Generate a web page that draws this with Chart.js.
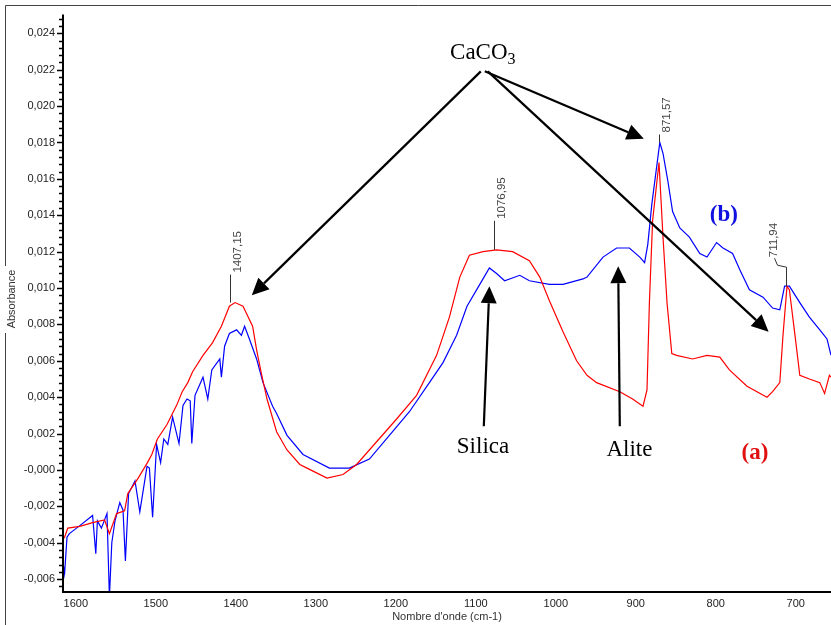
<!DOCTYPE html>
<html>
<head>
<meta charset="utf-8">
<script src="https://cdn.jsdelivr.net/npm/chart.js@4"></script>
<style>
  html, body { margin: 0; padding: 0; background: #fff; }
  #wrap { position: relative; width: 831px; height: 625px; }
</style>
</head>
<body>
<div id="wrap"><canvas id="ftir"></canvas></div>
<script>
// Wavenumbers (cm-1) and absorbance
const waveA = [1616, 1614, 1610, 1595, 1579, 1564, 1558, 1549, 1539, 1535, 1522, 1511, 1505, 1498, 1486, 1474, 1467, 1460, 1454, 1441, 1429, 1418, 1408, 1401, 1391, 1379, 1374, 1368, 1361, 1349, 1336, 1320, 1311, 1286, 1266, 1249, 1224, 1199, 1174, 1149, 1133, 1120, 1108, 1091, 1074, 1054, 1033, 1020, 1008, 991, 974, 961, 949, 920, 904, 891, 886, 883, 879, 871, 866, 861, 855, 849, 829, 811, 795, 783, 761, 736, 729, 720, 716, 711, 708, 701, 695, 683, 670, 664, 658, 656];
const absA = [-0.0038, -0.0037, -0.0032, -0.0031, -0.0029, -0.00275, -0.0035, -0.0024, -0.00225, -0.0013, -0.00045, 0.00036, 0.00085, 0.0017, 0.0025, 0.00355, 0.0043, 0.0048, 0.0054, 0.0063, 0.0070, 0.0079, 0.0090, 0.0092, 0.0090, 0.0079, 0.0066, 0.0053, 0.0039, 0.0021, 0.0011, 0.0003, 0.0001, -0.00045, -0.00025, 0.0003, 0.00155, 0.0028, 0.0041, 0.0063, 0.0084, 0.0106, 0.0118, 0.0120, 0.0121, 0.0120, 0.0115, 0.0106, 0.0093, 0.0076, 0.0060, 0.0052, 0.0048, 0.0043, 0.0039, 0.0035, 0.0044, 0.0092, 0.0137, 0.0169, 0.0128, 0.0092, 0.0064, 0.0063, 0.0061, 0.0063, 0.0062, 0.0055, 0.0046, 0.0040, 0.0043, 0.0048, 0.0074, 0.0101, 0.0099, 0.0074, 0.0052, 0.0050, 0.0048, 0.0042, 0.0052, 0.0051];

const waveB = [1616, 1614, 1611, 1608, 1595, 1579, 1575, 1573, 1568, 1561, 1558, 1555, 1551, 1545, 1541, 1538, 1534, 1526, 1520, 1511, 1508, 1504, 1499, 1494, 1490, 1485, 1479, 1471, 1466, 1461, 1457, 1455, 1451, 1441, 1435, 1430, 1420, 1418, 1414, 1408, 1399, 1393, 1389, 1383, 1374, 1366, 1354, 1349, 1336, 1316, 1283, 1258, 1233, 1208, 1183, 1158, 1141, 1124, 1111, 1095, 1083, 1074, 1064, 1045, 1033, 1008, 991, 983, 966, 961, 941, 924, 908, 895, 889, 885, 880, 870, 866, 860, 854, 845, 833, 820, 811, 799, 791, 779, 770, 758, 741, 729, 720, 714, 708, 695, 683, 670, 661, 656];
const absB = [-0.0051, -0.0057, -0.0037, -0.0035, -0.00306, -0.0025, -0.0046, -0.0028, -0.0032, -0.0024, -0.0070, -0.0040, -0.0028, -0.0018, -0.0022, -0.0050, -0.0013, -0.0006, -0.0023, 0.0002, 0.0001, -0.0026, 0.0014, 0.0004, 0.0017, 0.0014, 0.0029, 0.00145, 0.00355, 0.0039, 0.0038, 0.00145, 0.0041, 0.0051, 0.0039, 0.0055, 0.0061, 0.0051, 0.0068, 0.0075, 0.0077, 0.0074, 0.0079, 0.0072, 0.0061, 0.0048, 0.0035, 0.0031, 0.0019, 0.00085, 0.0001, 0.0001, 0.0006, 0.0019, 0.0032, 0.0048, 0.0059, 0.0074, 0.0090, 0.0102, 0.0111, 0.0108, 0.0104, 0.0107, 0.0104, 0.0102, 0.0102, 0.0103, 0.0105, 0.0106, 0.0117, 0.0122, 0.0122, 0.0117, 0.0114, 0.0124, 0.0146, 0.0180, 0.0174, 0.0159, 0.0142, 0.0133, 0.0128, 0.0119, 0.0117, 0.0125, 0.0122, 0.0119, 0.0110, 0.0099, 0.0095, 0.0089, 0.0088, 0.0101, 0.0101, 0.0092, 0.0084, 0.0077, 0.0072, 0.0063];

// Axis ranges and ticks
const xMin = 656, xMax = 1616;
const yMin = -0.00671, yMax = 0.02503;
const xTickValues = [1600, 1500, 1400, 1300, 1200, 1100, 1000, 900, 800, 700];

// Peak markers: wavenumber, absorbance at the peak, label
const peakWave = [1407.15, 1076.95, 871.57, 711.94];
const peakAbs = [0.0092, 0.0121, 0.0180, 0.0101];
const peakText = ['1407,15', '1076,95', '871,57', '711,94'];

const serif = "'Liberation Serif', 'Times New Roman', serif";
const sans = "'Liberation Sans', Arial, sans-serif";

function toPoints(xs, ys) {
    return xs.map((x, i) => ({ x: x, y: ys[i] }));
}

function fmtAbs(v) {
    if (Math.abs(v) < 1e-9) return '-0,000';
    return v.toFixed(3).replace('.', ',');
}

function arrow(ctx, x1, y1, x2, y2) {
    const ang = Math.atan2(y2 - y1, x2 - x1);
    const len = 17, half = 8;
    const bx = x2 - len * Math.cos(ang), by = y2 - len * Math.sin(ang);
    ctx.beginPath();
    ctx.moveTo(x1, y1);
    ctx.lineTo(bx, by);
    ctx.stroke();
    ctx.beginPath();
    ctx.moveTo(x2, y2);
    ctx.lineTo(bx + half * Math.sin(ang), by - half * Math.cos(ang));
    ctx.lineTo(bx - half * Math.sin(ang), by + half * Math.cos(ang));
    ctx.closePath();
    ctx.fill();
}

// Frame, axes, minor ticks, peak labels and annotations
const decor = {
    id: 'decor',
    afterDatasetsDraw(chart) {
        const { ctx, chartArea: a, scales: { x, y } } = chart;
        ctx.save();

        // outer frame
        ctx.strokeStyle = '#444';
        ctx.lineWidth = 1;
        ctx.beginPath();
        ctx.moveTo(5.5, 625); ctx.lineTo(5.5, 333);
        ctx.moveTo(5.5, 266); ctx.lineTo(5.5, 5.5); ctx.lineTo(831, 5.5);
        ctx.stroke();

        // axis lines
        ctx.strokeStyle = '#000';
        ctx.lineWidth = 2;
        ctx.beginPath();
        ctx.moveTo(a.left, a.top); ctx.lineTo(a.left, a.bottom); ctx.lineTo(a.right, a.bottom);
        ctx.stroke();

        // y ticks: major every 0.002, minor every 0.0004
        ctx.lineWidth = 1.5;
        ctx.beginPath();
        for (let k = -16; k <= 62; k++) {
            const v = k * 0.0004;
            if (v < yMin || v > yMax) continue;
            const py = Math.round(y.getPixelForValue(v)) + 0.5;
            const major = k % 5 === 0;
            ctx.moveTo(a.left - (major ? 6 : 4), py);
            ctx.lineTo(a.left, py);
        }
        ctx.stroke();

        // axis titles
        ctx.fillStyle = '#333';
        ctx.font = '11px ' + sans;
        ctx.textAlign = 'center';
        ctx.textBaseline = 'middle';
        ctx.fillText("Nombre d'onde (cm-1)", 447, 617);
        ctx.save();
        ctx.translate(12, 299);
        ctx.rotate(-Math.PI / 2);
        ctx.fillText('Absorbance', 0, 0);
        ctx.restore();

        // peak labels
        const stems = [28, 29, 8, 19];
        ctx.strokeStyle = '#333';
        ctx.lineWidth = 1;
        ctx.font = '11.5px ' + sans;
        ctx.fillStyle = '#444';
        peakWave.forEach((w, i) => {
            const px = Math.round(x.getPixelForValue(w)) + 0.5;
            const py = y.getPixelForValue(peakAbs[i]);
            let tx = px + 7, ty = py - stems[i] - 2;
            ctx.beginPath();
            ctx.moveTo(px, py);
            ctx.lineTo(px, py - stems[i]);
            if (i === 3) {
                ctx.lineTo(px - 9, py - stems[i] - 2);
                ctx.lineTo(px - 12, py - stems[i] - 9);
                tx = px - 13; ty = py - stems[i] - 10;
            }
            ctx.stroke();
            ctx.save();
            ctx.translate(tx, ty);
            ctx.rotate(-Math.PI / 2);
            ctx.textAlign = 'left';
            ctx.fillText(peakText[i], 0, 0);
            ctx.restore();
        });

        // CaCO3 label and arrows
        ctx.fillStyle = '#000';
        ctx.strokeStyle = '#000';
        ctx.lineWidth = 2.2;
        const cx = x.getPixelForValue(1090), cy = y.getPixelForValue(0.0229);
        ctx.font = '23px ' + serif;
        ctx.textAlign = 'left';
        ctx.textBaseline = 'middle';
        const wCa = ctx.measureText('CaCO').width;
        ctx.fillText('CaCO', cx - (wCa + 10) / 2, cy);
        ctx.font = '16px ' + serif;
        ctx.fillText('3', cx - (wCa + 10) / 2 + wCa, cy + 6);
        arrow(ctx, cx - 3, cy + 18, x.getPixelForValue(1380), y.getPixelForValue(0.0096));
        arrow(ctx, cx + 1, cy + 18, x.getPixelForValue(890), y.getPixelForValue(0.0182));
        arrow(ctx, cx + 4, cy + 18, x.getPixelForValue(734), y.getPixelForValue(0.0076));

        // Silica and Alite
        ctx.font = '23px ' + serif;
        ctx.textAlign = 'center';
        ctx.fillText('Silica', x.getPixelForValue(1091), y.getPixelForValue(0.00125));
        arrow(ctx, x.getPixelForValue(1090), y.getPixelForValue(0.0024), x.getPixelForValue(1083), y.getPixelForValue(0.0101));
        ctx.fillText('Alite', x.getPixelForValue(908), y.getPixelForValue(0.0011));
        arrow(ctx, x.getPixelForValue(920), y.getPixelForValue(0.0024), x.getPixelForValue(922), y.getPixelForValue(0.0112));

        // series tags
        ctx.font = 'bold 23px ' + serif;
        ctx.fillStyle = '#1010e0';
        ctx.fillText('(b)', x.getPixelForValue(790), y.getPixelForValue(0.0140));
        ctx.fillStyle = '#e01010';
        ctx.fillText('(a)', x.getPixelForValue(751), y.getPixelForValue(0.00095));

        ctx.restore();
    }
};

new Chart(document.getElementById('ftir'), {
    type: 'line',
    data: {
        datasets: [{
            label: '(a)',
            data: toPoints(waveA, absA),
            borderColor: '#ff0000',
            borderWidth: 1.2,
            pointRadius: 0,
            tension: 0
        }, {
            label: '(b)',
            data: toPoints(waveB, absB),
            borderColor: '#0000ff',
            borderWidth: 1.2,
            pointRadius: 0,
            tension: 0
        }]
    },
    options: {
        responsive: true,
        maintainAspectRatio: false,
        animation: false,
        layout: { padding: { top: 8, right: 0, left: 0, bottom: 0 } },
        plugins: { legend: { display: false }, tooltip: { enabled: false } },
        scales: {
            x: {
                type: 'linear',
                reverse: true,
                min: xMin,
                max: xMax,
                afterFit: s => { s.height = 33; },
                afterBuildTicks: s => { s.ticks = xTickValues.map(v => ({ value: v })); },
                grid: { display: false, drawTicks: false },
                border: { display: false },
                ticks: {
                    padding: 5,
                    maxRotation: 0,
                    autoSkip: false,
                    color: '#222',
                    font: { family: sans, size: 11 },
                    callback: v => String(v)
                }
            },
            y: {
                type: 'linear',
                min: yMin,
                max: yMax,
                afterFit: s => { s.width = 63; },
                grid: { display: false, drawTicks: false },
                border: { display: false },
                ticks: {
                    stepSize: 0.002,
                    includeBounds: false,
                    padding: 8,
                    color: '#222',
                    font: { family: sans, size: 11 },
                    callback: v => fmtAbs(v)
                }
            }
        }
    },
    plugins: [decor]
});
</script>
</body>
</html>
